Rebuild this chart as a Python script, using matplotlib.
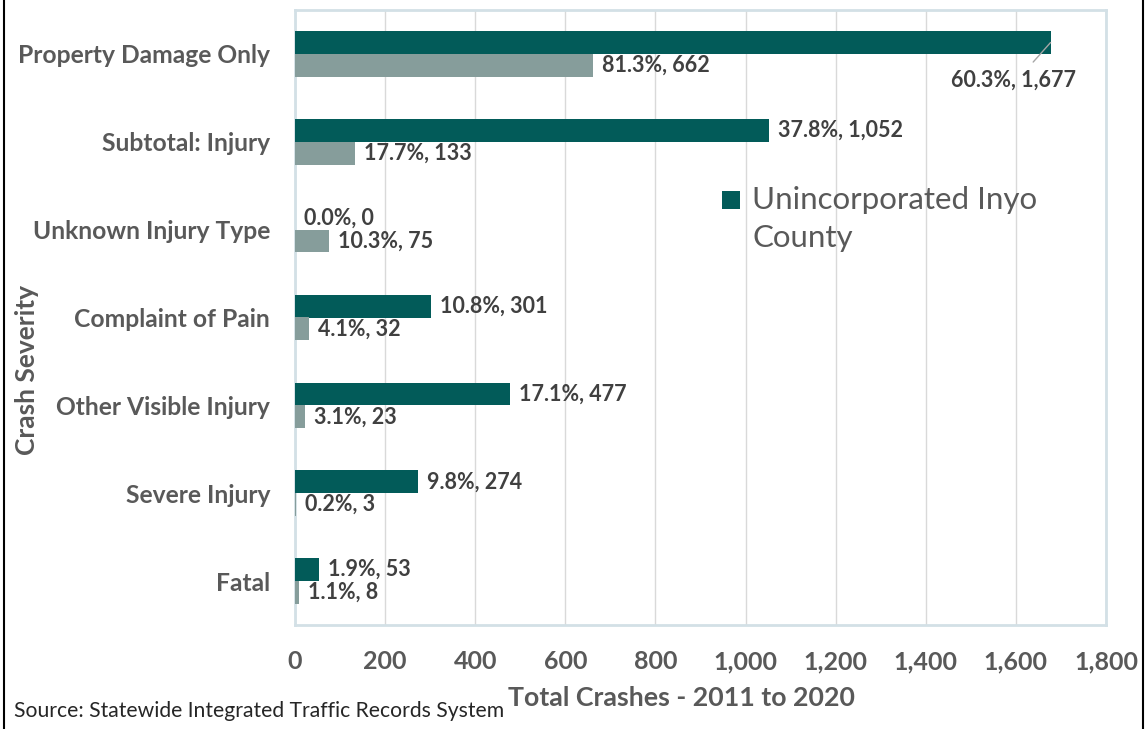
import matplotlib
matplotlib.use("Agg")
import matplotlib.pyplot as plt
from matplotlib.patches import Patch, Rectangle
from matplotlib.legend_handler import HandlerPatch
from matplotlib.lines import Line2D
import numpy as np

categories = ["Property Damage Only", "Subtotal: Injury", "Unknown Injury Type",
              "Complaint of Pain", "Other Visible Injury", "Severe Injury", "Fatal"]
county_counts = [1677, 1052, 0, 301, 477, 274, 53]
county_pct = [60.3, 37.8, 0.0, 10.8, 17.1, 9.8, 1.9]
other_counts = [662, 133, 75, 32, 23, 3, 8]
other_pct = [81.3, 17.7, 10.3, 4.1, 3.1, 0.2, 1.1]
x_ticks = [0, 200, 400, 600, 800, 1000, 1200, 1400, 1600, 1800]
legend_label = "Unincorporated Inyo\nCounty"
x_title = "Total Crashes - 2011 to 2020"
y_title = "Crash Severity"
source_text = "Source: Statewide Integrated Traffic Records System"

DARK = "#025B59"
LIGHT = "#869D9B"
FRAME = "#D3E0E6"
GRID = "#D9D9D9"
TXT = "#595959"
LBL = "#404040"
FONT = "Lato"

W, H = 1146, 729
fig = plt.figure(figsize=(W / 100, H / 100), dpi=100)
ax = fig.add_axes([295 / W, 1 - 625 / H, 811 / W, 615 / H])

y = np.arange(len(categories))
h = 0.26
ax.barh(y - h / 2, county_counts, height=h, color=DARK, zorder=3)
ax.barh(y + h / 2, other_counts, height=h, color=LIGHT, zorder=3)
ax.set_ylim(len(categories) - 0.5, -0.5)
ax.set_xlim(x_ticks[0], x_ticks[-1])

ax.set_axisbelow(True)
ax.xaxis.grid(True, color=GRID, lw=1)
for s in ax.spines.values():
    s.set_color(FRAME)
    s.set_linewidth(2)

ax.set_xticks(x_ticks)
ax.set_xticklabels([f"{v:,}" for v in x_ticks], fontfamily=FONT,
                   fontweight="bold", fontsize=18, color=TXT)
ax.set_yticks(y)
ax.set_yticklabels(categories, fontfamily=FONT, fontweight="bold",
                   fontsize=17.7, color=TXT)
ax.tick_params(axis="x", length=0, pad=18)
ax.tick_params(axis="y", length=0, pad=18)

lab_kw = dict(fontfamily=FONT, fontweight="bold", fontsize=15.5, color=LBL,
              va="center", textcoords="offset pixels")
for i in range(len(categories)):
    txt = f"{county_pct[i]:.1f}%, {county_counts[i]:,}"
    if i == 0:
        ax.annotate(txt, xy=(county_counts[i], y[i] - h / 2), xytext=(-37, -38),
                    ha="center",
                    arrowprops=dict(arrowstyle="-", color="#A6A6A6", lw=1,
                                    relpos=(0.6, 1.0), shrinkA=5, shrinkB=0),
                    **lab_kw)
    else:
        ax.annotate(txt, xy=(county_counts[i], y[i] - h / 2), xytext=(9, 0),
                    ha="left", **lab_kw)
    txt2 = f"{other_pct[i]:.1f}%, {other_counts[i]:,}"
    ax.annotate(txt2, xy=(other_counts[i], y[i] + h / 2), xytext=(9, 0),
                ha="left", **lab_kw)


def top_square(legend, orig_handle, xdescent, ydescent, width, height, fontsize):
    return Rectangle((-xdescent, -ydescent + 14.5), width, width)


leg = ax.legend(handles=[Patch(facecolor=DARK, edgecolor="none")], labels=[legend_label],
                loc="upper left", bbox_to_anchor=(722 / W, 1 - 186 / H),
                bbox_transform=fig.transFigure, frameon=False, borderpad=0,
                borderaxespad=0, handlelength=0.58, handleheight=0.58,
                handletextpad=0.38, prop=dict(family=FONT, size=22.5),
                labelcolor=TXT,
                handler_map={Patch: HandlerPatch(patch_func=top_square)})
for t in leg.get_texts():
    t.set_linespacing(1.45)

fig.text(681 / W, 1 - 698 / H, x_title, ha="center", va="center",
         fontfamily=FONT, fontweight="bold", fontsize=19.3, color=TXT)
fig.text(27 / W, 1 - 370 / H, y_title, ha="center", va="center", rotation=90,
         fontfamily=FONT, fontweight="bold", fontsize=19, color=TXT)
fig.text(14 / W, 1 - 711 / H, source_text, ha="left", va="center",
         fontfamily=FONT, fontsize=15.2, color="#262626")

for xx in (3.5 / W, 1142.5 / W):
    fig.add_artist(Line2D([xx, xx], [0, 1], transform=fig.transFigure,
                          color="black", lw=1.5))

fig.savefig("out.png", dpi=100)
